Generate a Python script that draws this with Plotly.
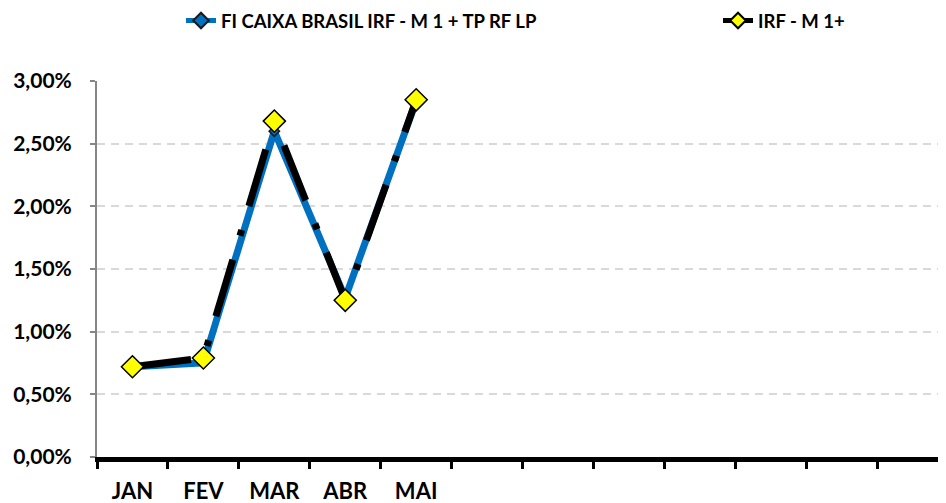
import plotly.graph_objects as go

months = ['JAN', 'FEV', 'MAR', 'ABR', 'MAI', 'JUN', 'JUL', 'AGO', 'SET', 'OUT', 'NOV', 'DEZ']
month_labels = ['JAN', 'FEV', 'MAR', 'ABR', 'MAI', '', '', '', '', '', '', '']
fund_name = 'FI CAIXA BRASIL IRF - M 1 + TP RF LP'
fund_values = [0.72, 0.75, 2.60, 1.27, 2.84]
bench_name = 'IRF - M 1+'
bench_values = [0.72, 0.79, 2.68, 1.25, 2.85]
y_ticks = [0, 0.5, 1.0, 1.5, 2.0, 2.5, 3.0]
y_tick_labels = ['0,00%', '0,50%', '1,00%', '1,50%', '2,00%', '2,50%', '3,00%']

FONT = 'Lato'
# page body has an 8px margin; figure is sized/placed to compensate
OFF = 8
W, H = 946 - OFF, 503 - OFF
L = 97 - OFF
T = 81 - OFF
B = H - (457 - OFF)
PW, PH = W - L, H - T - B


def px_x(page_px):
    return (page_px - OFF - L) / PW


def px_y(page_px):
    return 1 + (T - (page_px - OFF)) / PH


fig = go.Figure()
fig.add_trace(go.Scatter(
    x=months[:len(fund_values)], y=fund_values, name=fund_name,
    mode='lines+markers', legend='legend',
    line=dict(color='#0070c0', width=7),
    marker=dict(symbol='diamond', size=8, color='#0070c0',
                line=dict(color='#1a1a1a', width=1.5)),
))
fig.add_trace(go.Scatter(
    x=months[:len(bench_values)], y=bench_values, name=bench_name,
    mode='lines+markers', legend='legend2',
    line=dict(color='#000000', width=7, dash='59px,25px,6px,25px'),
    marker=dict(symbol='diamond', size=17, color='#ffff00',
                line=dict(color='#000000', width=1.5)),
))

legend_common = dict(
    orientation='h', xanchor='left', yanchor='middle',
    font=dict(family=FONT, size=18.5, color='#000000', weight='bold'),
    itemsizing='constant', bgcolor='rgba(0,0,0,0)', borderwidth=0,
)

fig.update_layout(
    width=W, height=H,
    margin=dict(l=L, r=0, t=T, b=B, pad=0, autoexpand=False),
    paper_bgcolor='white', plot_bgcolor='white',
    font=dict(family=FONT, color='#000000'),
    showlegend=True,
    legend=dict(x=px_x(181), y=px_y(21), **legend_common),
    legend2=dict(x=px_x(718), y=px_y(21), **legend_common),
    xaxis=dict(
        type='category', categoryorder='array', categoryarray=months,
        range=[-0.5, 11.47],
        tickmode='array', tickvals=months, ticktext=month_labels,
        tickson='boundaries',
        showline=True, linecolor='#000000', linewidth=5,
        ticks='outside', ticklen=7, tickwidth=3, tickcolor='#000000',
        ticklabelstandoff=11, automargin=False,
        tickfont=dict(family=FONT, size=22, color='#000000', weight='bold'),
        showgrid=False, zeroline=False, fixedrange=True,
    ),
    yaxis=dict(
        range=[0, 3], tickmode='array', tickvals=y_ticks, ticktext=y_tick_labels,
        showline=True, linecolor='#868686', linewidth=2,
        ticks='outside', ticklen=5, tickwidth=2, tickcolor='#868686',
        ticklabelstandoff=14,
        showgrid=True, gridcolor='#d9d9d9', gridwidth=2, griddash='8px,6px',
        zeroline=False, automargin=False,
        tickfont=dict(family=FONT, size=21, color='#000000', weight='bold'),
        fixedrange=True,
    ),
)

fig.write_html('out.html')
